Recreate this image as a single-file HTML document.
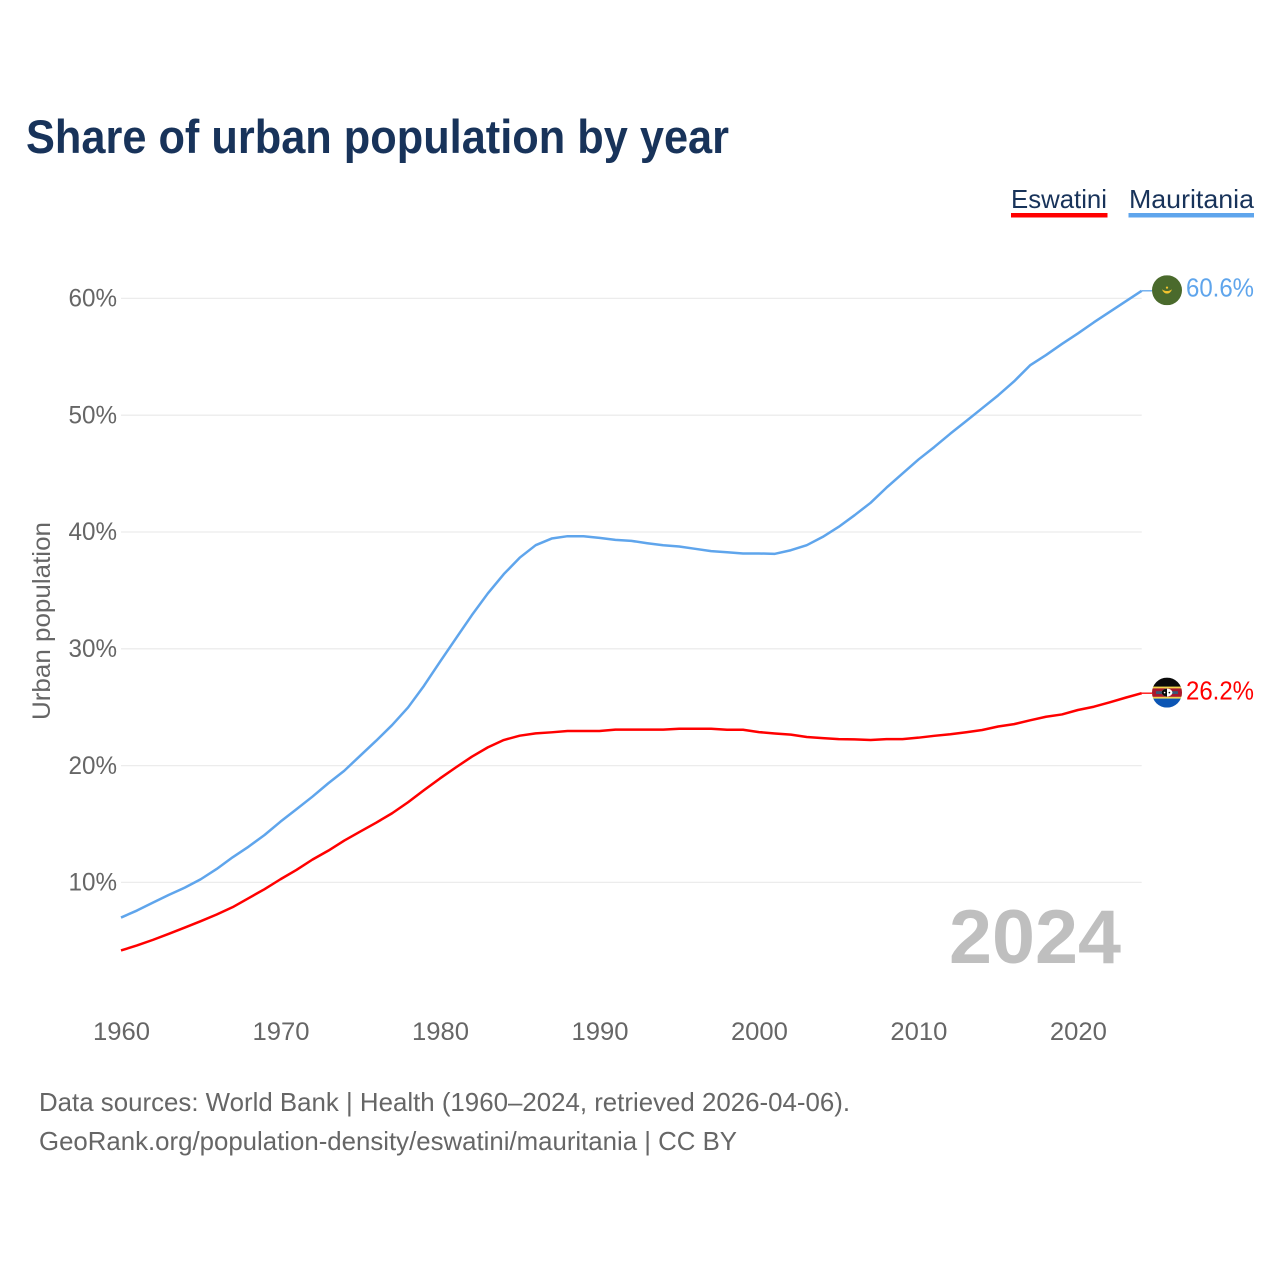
<!DOCTYPE html>
<html lang="en">
<head>
<meta charset="utf-8">
<title>Share of urban population by year</title>
<style>
html,body{margin:0;padding:0;background:#fff;}
svg{display:block;}
text{font-family:"Liberation Sans",sans-serif;}
</style>
</head>
<body>
<svg id="chart" xmlns="http://www.w3.org/2000/svg" width="1280" height="1280" viewBox="0 0 1280 1280">
  <defs>
    <clipPath id="flag-clip-m"><circle id="clip-m" cx="0" cy="0" r="15"></circle></clipPath>
    <clipPath id="flag-clip-e"><circle id="clip-e" cx="0" cy="0" r="15"></circle></clipPath>
  </defs>
  <rect width="1280" height="1280" fill="#fff"></rect>
  <text x="26" y="153" font-size="47" font-weight="700" fill="#18335a" textLength="703" lengthAdjust="spacingAndGlyphs">Share of urban population by year</text>

  <g>
    <text x="1011" y="208" font-size="26" fill="#18335a" textLength="96" lengthAdjust="spacingAndGlyphs">Eswatini</text>
    <rect x="1011" y="213" width="96.5" height="4.5" fill="#ff0000"></rect>
  </g>
  <g>
    <text x="1129" y="208" font-size="26" fill="#18335a" textLength="125" lengthAdjust="spacingAndGlyphs">Mauritania</text>
    <rect x="1128.5" y="213" width="125.5" height="4.5" fill="#5fa5ec"></rect>
  </g>

  <g id="grid"></g>
  <g id="yticks"></g>
  <g id="xticks"></g>

  <text transform="translate(50,720) rotate(-90)" x="0" y="0" font-size="25" fill="#666666" textLength="198" lengthAdjust="spacingAndGlyphs">Urban population</text>

  <text x="949" y="963" font-size="76" font-weight="700" fill="#bfbfbf" textLength="172" lengthAdjust="spacingAndGlyphs">2024</text>

  <g id="series"></g>

  <g id="flag-m">
    <g clip-path="url(#flag-clip-m)">
      <rect x="-15" y="-15" width="30" height="30" fill="#4a6a2c"></rect>
      <path d="M-4.5 -0.5 A4.6 4.6 0 0 0 4.5 -0.5 A5.4 3.6 0 0 1 -4.5 -0.5 Z" fill="#f4c430" stroke="#f4c430" stroke-width="0.5"></path>
      <circle cx="0" cy="-2.6" r="1.1" fill="#f4c430"></circle>
    </g>
  </g>
  <g id="flag-e">
    <g clip-path="url(#flag-clip-e)">
      <rect x="-15" y="-15" width="30" height="10" fill="#0a0a0a"></rect>
      <rect x="-15" y="-6" width="30" height="12" fill="#f2d44c"></rect>
      <rect x="-15" y="-4.2" width="30" height="8.4" fill="#a8182e"></rect>
      <rect x="-15" y="6" width="30" height="9" fill="#0b55b4"></rect>
      <rect x="-11" y="-1.4" width="22" height="2.8" fill="#3a5a78"></rect>
      <ellipse cx="0" cy="0" rx="5.4" ry="4" fill="#ffffff"></ellipse>
      <path d="M0 -4 A5.4 4 0 0 0 0 4 Z" fill="#0a0a0a"></path>
      <circle cx="-2.4" cy="0" r="0.8" fill="#ffffff"></circle>
      <circle cx="2.4" cy="0" r="0.8" fill="#0a0a0a"></circle>
    </g>
  </g>
  <g id="endlabels"></g>

  <text x="39" y="1111" font-size="26" fill="#666666" textLength="811" lengthAdjust="spacingAndGlyphs">Data sources: World Bank | Health (1960–2024, retrieved 2026-04-06).</text>
  <text x="39" y="1150" font-size="26" fill="#666666" textLength="698" lengthAdjust="spacingAndGlyphs">GeoRank.org/population-density/eswatini/mauritania | CC BY</text>
</svg>

<script>
const yearStart = 1960;
const mauritaniaValues = [
  6.99,7.59,8.27,8.93,9.55,10.27,11.15,12.15,13.06,14.06,
  15.2,16.26,17.34,18.49,19.56,20.85,22.13,23.47,24.98,26.84,
  28.89,30.89,32.88,34.74,36.39,37.8,38.87,39.44,39.64,39.64,
  39.5,39.33,39.24,39.04,38.87,38.76,38.56,38.36,38.27,38.16,
  38.16,38.13,38.44,38.87,39.58,40.44,41.44,42.5,43.8,45.0,
  46.2,47.28,48.42,49.5,50.6,51.7,52.9,54.27,55.15,56.1,
  57.0,57.95,58.85,59.75,60.65
];
const eswatiniValues = [
  4.17,4.6,5.08,5.6,6.13,6.68,7.25,7.88,8.65,9.42,
  10.27,11.07,11.95,12.72,13.58,14.35,15.11,15.92,16.86,17.9,
  18.9,19.85,20.76,21.56,22.19,22.56,22.76,22.85,22.96,22.96,
  22.96,23.08,23.08,23.08,23.08,23.15,23.15,23.15,23.07,23.07,
  22.87,22.75,22.65,22.45,22.35,22.27,22.25,22.19,22.27,22.27,
  22.39,22.55,22.68,22.86,23.05,23.35,23.55,23.88,24.18,24.38,
  24.76,25.04,25.42,25.82,26.2
];
const yTickValues = [10,20,30,40,50,60];
const xTickYears = [1960,1970,1980,1990,2000,2010,2020];

const NS = 'http://www.w3.org/2000/svg';
const plotLeft = 121;
const plotRight = 1141.7;
const yearEnd = yearStart + mauritaniaValues.length - 1;

function xScale(year){
  return plotLeft + (year - yearStart) * (plotRight - plotLeft) / 64;
}
function yScale(v){
  return 882.4 - (v - 10) * 11.68;
}
function make(tag, parent){
  const el = document.createElementNS(NS, tag);
  parent.appendChild(el);
  return el;
}

const gridGroup = document.getElementById('grid');
const yTickGroup = document.getElementById('yticks');
yTickValues.forEach(function(v){
  const line = make('line', gridGroup);
  
  
  line.setAttribute('x1', plotLeft);
  line.setAttribute('x2', plotRight);
  line.setAttribute('y1', yScale(v));
  line.setAttribute('y2', yScale(v));
  line.setAttribute('stroke', '#ececec');
  line.setAttribute('stroke-width', '1.3');

  const label = make('text', yTickGroup);
  
  
  label.setAttribute('x', 68.5);
  label.setAttribute('y', yScale(v) + 8.2);
  label.setAttribute('font-size', '25');
  label.setAttribute('fill', '#666666');
  label.setAttribute('textLength', '48.5');
  label.setAttribute('lengthAdjust', 'spacingAndGlyphs');
  label.textContent = v + '%';
});

const xTickGroup = document.getElementById('xticks');
xTickYears.forEach(function(year){
  const label = make('text', xTickGroup);
  
  
  label.setAttribute('x', xScale(year) - 28);
  label.setAttribute('y', 1040);
  label.setAttribute('font-size', '25');
  label.setAttribute('fill', '#666666');
  label.setAttribute('textLength', '57');
  label.setAttribute('lengthAdjust', 'spacingAndGlyphs');
  label.textContent = year;
});

function linePath(values){
  return values.map(function(v, i){
    return (i ? 'L' : 'M') + xScale(yearStart + i).toFixed(2) + ' ' + yScale(v).toFixed(2);
  }).join(' ');
}

const seriesGroup = document.getElementById('series');
const labelGroup = document.getElementById('endlabels');

function drawSeries(key, values, color, flagId, clipId, labelOffset){
  const last = values[values.length - 1];
  const endY = yScale(last);

  const path = make('path', seriesGroup);
  
  
  path.setAttribute('d', linePath(values));
  path.setAttribute('fill', 'none');
  path.setAttribute('stroke', color);
  path.setAttribute('stroke-width', '2.5');
  path.setAttribute('stroke-linejoin', 'round');

  const connector = make('line', seriesGroup);
  
  
  connector.setAttribute('x1', xScale(yearEnd));
  connector.setAttribute('x2', 1152);
  connector.setAttribute('y1', endY);
  connector.setAttribute('y2', endY);
  connector.setAttribute('stroke', color);
  connector.setAttribute('stroke-width', '1.3');

  document.getElementById(flagId).setAttribute('transform', 'translate(1167,' + (endY - 0.6) + ')');
  document.getElementById(clipId).setAttribute('r', '15');

  const label = make('text', labelGroup);
  
  
  label.setAttribute('x', 1186);
  label.setAttribute('y', endY + labelOffset);
  label.setAttribute('font-size', '25.5');
  label.setAttribute('fill', color);
  label.setAttribute('textLength', '68');
  label.setAttribute('lengthAdjust', 'spacingAndGlyphs');
  label.textContent = last.toFixed(1) + '%';
}

drawSeries('mauritania', mauritaniaValues, '#5fa5ec', 'flag-m', 'clip-m', 5.6);
drawSeries('eswatini', eswatiniValues, '#ff0000', 'flag-e', 'clip-e', 6.4);
</script>
</body>
</html>
